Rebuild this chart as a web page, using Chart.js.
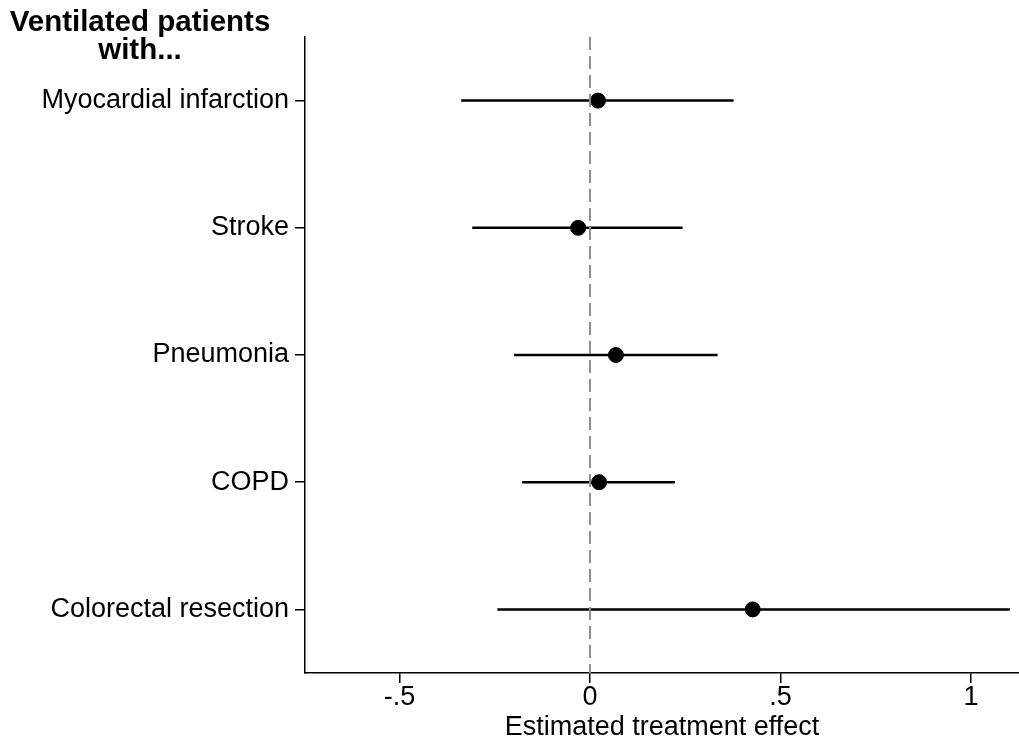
<!DOCTYPE html>
<html>
<head>
<meta charset="utf-8">
<script src="https://cdn.jsdelivr.net/npm/chart.js@4/dist/chart.umd.min.js"></script>
<style>
  body { margin: 0; background: #fff; }
  #wrap { position: relative; width: 1019px; height: 742px; }
  #head {
    position: absolute; left: 0; top: 7px; width: 280px;
    font: bold 29.5px "Liberation Sans", Arial, sans-serif;
    text-align: center; line-height: 28px; color: #000;
  }
</style>
</head>
<body>
<div id="wrap">
  <canvas id="myChart" width="1019" height="742"></canvas>
  <div id="head">Ventilated patients<br>with...</div>
</div>
<script>
var canvas = document.getElementById("myChart");

const categories = [
  "Myocardial infarction",
  "Stroke",
  "Pneumonia",
  "COPD",
  "Colorectal resection",
];
const estimates = [0.021, -0.031, 0.068, 0.024, 0.427];
const lower = [-0.338, -0.309, -0.199, -0.178, -0.243];
const upper = [0.377, 0.243, 0.335, 0.223, 1.102];
const xTicks = [-0.5, 0, 0.5, 1];
const xTickLabels = ["-.5", "0", ".5", "1"];

const font = { family: "'Liberation Sans', Arial, sans-serif", size: 27, lineHeight: 1 };

// one line dataset per confidence interval
const ciSets = categories.map(function (c, i) {
  return {
    type: "line",
    data: [
      { x: lower[i], y: i + 1 },
      { x: upper[i], y: i + 1 },
    ],
    borderColor: "#000",
    borderWidth: 2.5,
    pointRadius: 0,
  };
});

new Chart(canvas, {
  type: "scatter",
  data: {
    datasets: [
      {
        type: "line",
        data: [
          { x: 0, y: 0.5 },
          { x: 0, y: 5.5 },
        ],
        borderColor: "#8f8f8f",
        borderWidth: 2,
        borderDash: [13, 6],
        pointRadius: 0,
      },
      ...ciSets,
      {
        data: estimates.map(function (v, i) {
          return { x: v, y: i + 1 };
        }),
        backgroundColor: "#000",
        borderColor: "#000",
        pointRadius: 7.5,
      },
    ],
  },
  options: {
    responsive: false,
    animation: false,
    layout: { autoPadding: false, padding: { left: 10, top: 37, right: 0, bottom: 0 } },
    plugins: {
      legend: { display: false },
      tooltip: { enabled: false },
    },
    scales: {
      x: {
        type: "linear",
        min: -0.748,
        max: 1.126,
        afterBuildTicks: function (s) {
          s.ticks = xTicks.map(function (v) { return { value: v }; });
        },
        afterFit: function (s) { s.height = 69; },
        ticks: {
          color: "#000",
          font: font,
          padding: 1,
          maxRotation: 0,
          callback: function (v) {
            return xTickLabels[xTicks.indexOf(v)];
          },
        },
        grid: { drawOnChartArea: false, tickLength: 10, color: "#000", lineWidth: 1.5 },
        border: { color: "#000", width: 1.5 },
        title: {
          display: true,
          text: "Estimated treatment effect",
          color: "#000",
          font: font,
          padding: { top: 0, bottom: 0.5 },
        },
      },
      y: {
        type: "linear",
        reverse: true,
        min: 0.5,
        max: 5.5,
        afterBuildTicks: function (s) {
          s.ticks = categories.map(function (c, i) { return { value: i + 1 }; });
        },
        afterFit: function (s) { s.width = 295; },
        ticks: {
          color: "#000",
          font: font,
          padding: 6,
          callback: function (v) {
            return categories[v - 1];
          },
        },
        grid: { drawOnChartArea: false, tickLength: 10, color: "#000", lineWidth: 1.5 },
        border: { color: "#000", width: 1.5 },
      },
    },
  },
});
</script>
</body>
</html>
